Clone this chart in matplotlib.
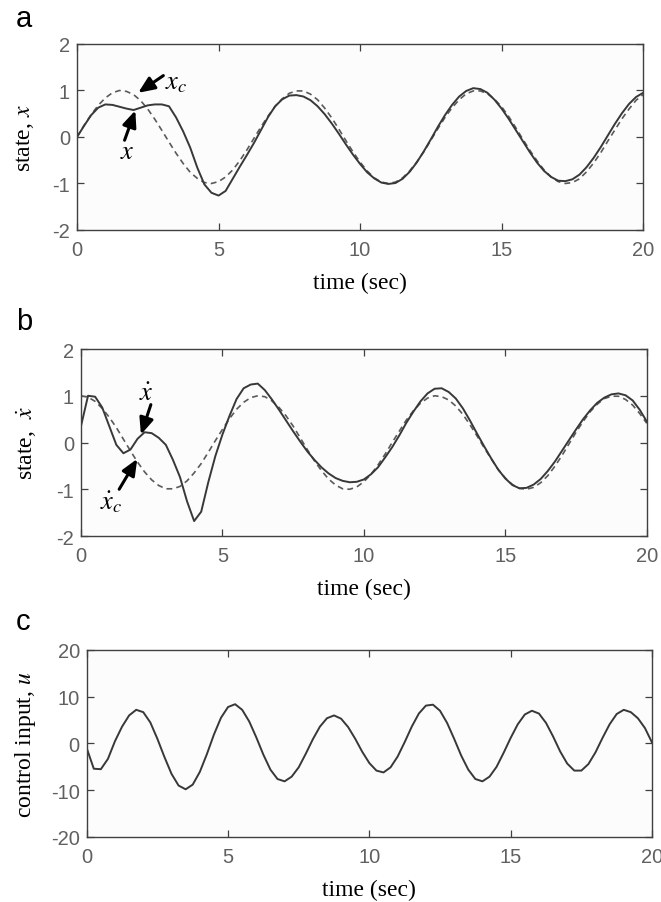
import numpy as np
import matplotlib
matplotlib.use("Agg")
import matplotlib.pyplot as plt

# sample times (sec), 0.25 s spacing
time = np.arange(0, 81) * 0.25

# panel a: desired state x_c (dashed) and state x (solid)
x_ref = [0.00, 0.25, 0.48, 0.68, 0.84, 0.95, 1.00, 0.98, 0.91, 0.78,
         0.60, 0.38, 0.14, -0.11, -0.35, -0.57, -0.76, -0.89, -0.98, -1.00,
         -0.96, -0.86, -0.71, -0.51, -0.28, -0.03, 0.22, 0.45, 0.66, 0.82,
         0.94, 0.99, 0.99, 0.92, 0.80, 0.62, 0.41, 0.17, -0.08, -0.32,
         -0.54, -0.73, -0.88, -0.97, -1.00, -0.97, -0.88, -0.73, -0.54, -0.32,
         -0.07, 0.18, 0.42, 0.63, 0.80, 0.93, 0.99, 0.99, 0.93, 0.81,
         0.65, 0.44, 0.20, -0.05, -0.29, -0.51, -0.71, -0.86, -0.96, -1.00,
         -0.98, -0.90, -0.75, -0.56, -0.34, -0.09, 0.15, 0.39, 0.60, 0.79,
         0.91]
x_state = [0.00, 0.24, 0.47, 0.63, 0.70, 0.69, 0.65, 0.61, 0.58, 0.63,
           0.68, 0.70, 0.70, 0.66, 0.42, 0.12, -0.23, -0.66, -1.02, -1.20,
           -1.26, -1.16, -0.90, -0.64, -0.39, -0.13, 0.15, 0.43, 0.66, 0.81,
           0.89, 0.90, 0.87, 0.79, 0.66, 0.49, 0.29, 0.07, -0.16, -0.38,
           -0.58, -0.76, -0.89, -0.98, -1.01, -0.99, -0.90, -0.75, -0.55, -0.31,
           -0.05, 0.22, 0.47, 0.69, 0.87, 0.99, 1.05, 1.03, 0.95, 0.80,
           0.61, 0.39, 0.15, -0.09, -0.33, -0.55, -0.73, -0.86, -0.94, -0.95,
           -0.91, -0.81, -0.65, -0.45, -0.22, 0.03, 0.28, 0.51, 0.71, 0.86,
           0.95]

# panel b: desired velocity (dashed) and velocity (solid)
xdot_ref = [1.00, 0.97, 0.88, 0.73, 0.54, 0.32, 0.07, -0.18, -0.42, -0.63,
            -0.80, -0.92, -0.99, -0.99, -0.94, -0.82, -0.65, -0.45, -0.21, 0.04,
            0.28, 0.51, 0.71, 0.86, 0.96, 1.00, 0.98, 0.89, 0.75, 0.57,
            0.35, 0.10, -0.15, -0.39, -0.60, -0.78, -0.91, -0.99, -1.00, -0.95,
            -0.84, -0.68, -0.48, -0.25, 0.00, 0.24, 0.48, 0.68, 0.84, 0.95,
            1.00, 0.98, 0.91, 0.78, 0.60, 0.38, 0.14, -0.11, -0.35, -0.58,
            -0.76, -0.90, -0.98, -1.00, -0.96, -0.86, -0.71, -0.51, -0.28, -0.03,
            0.22, 0.45, 0.66, 0.82, 0.94, 0.99, 0.99, 0.92, 0.80, 0.62,
            0.41]
xdot_state = [0.35, 1.00, 0.98, 0.75, 0.35, -0.05, -0.23, -0.15, 0.08, 0.22,
              0.20, 0.10, -0.05, -0.37, -0.74, -1.26, -1.68, -1.48, -0.85, -0.29,
              0.17, 0.57, 0.93, 1.16, 1.24, 1.26, 1.12, 0.92, 0.70, 0.47,
              0.24, 0.02, -0.19, -0.37, -0.53, -0.66, -0.76, -0.82, -0.85, -0.84,
              -0.79, -0.68, -0.53, -0.32, -0.10, 0.15, 0.42, 0.66, 0.88, 1.05,
              1.15, 1.16, 1.08, 0.94, 0.73, 0.47, 0.19, -0.08, -0.34, -0.58,
              -0.77, -0.91, -0.98, -0.97, -0.90, -0.78, -0.61, -0.41, -0.18, 0.05,
              0.28, 0.50, 0.69, 0.85, 0.96, 1.03, 1.05, 1.01, 0.90, 0.70,
              0.45]

# panel c: control input u
u_input = [-1.0, -5.4, -5.5, -3.3, 0.5, 3.6, 6.0, 7.2, 6.7, 4.5,
           1.0, -2.9, -6.5, -9.0, -9.8, -8.8, -6.1, -2.3, 1.9, 5.5,
           7.8, 8.4, 7.2, 4.7, 1.3, -2.4, -5.6, -7.6, -8.1, -7.1,
           -5.1, -2.2, 0.9, 3.6, 5.4, 6.0, 5.3, 3.5, 1.0, -1.8,
           -4.2, -5.8, -6.2, -5.1, -2.8, 0.3, 3.6, 6.4, 8.1, 8.3,
           7.0, 4.4, 1.0, -2.6, -5.6, -7.6, -8.1, -7.1, -5.0, -2.0,
           1.2, 4.1, 6.2, 7.0, 6.4, 4.4, 1.5, -1.7, -4.3, -5.8,
           -5.8, -4.4, -1.9, 1.2, 4.1, 6.3, 7.2, 6.7, 5.4, 3.3,
           0.2]

plt.rcParams["mathtext.fontset"] = "stix"
plt.rcParams["axes.unicode_minus"] = False

SERIF = ["Liberation Serif", "DejaVu Serif"]
TICKFONT = ["Liberation Sans", "DejaVu Sans"]
FRAME = "#404040"
SOLID = "#383838"
DASH = "#5a5a5a"


def style_axes(ax, ylim, yticks, ylabel, ylab_x):
    ax.set_facecolor("#fcfcfc")
    ax.set_xlim(0, 20)
    ax.set_ylim(*ylim)
    ax.set_xticks([0, 5, 10, 15, 20])
    ax.set_yticks(yticks)
    ax.tick_params(direction="in", top=True, right=True, length=5,
                   width=0.9, color=FRAME, labelcolor="#606060",
                   labelsize=14.5)
    ax.tick_params(axis="x", pad=7)
    ax.tick_params(axis="y", pad=5)
    for lab in ax.get_xticklabels() + ax.get_yticklabels():
        lab.set_family(TICKFONT)
    for sp in ax.spines.values():
        sp.set_color(FRAME)
        sp.set_linewidth(1.0)
    ax.set_xlabel("time (sec)", family=SERIF, fontsize=17)
    ax.set_ylabel(ylabel, family=SERIF, fontsize=17)
    ax.xaxis.set_label_coords(0.5, -0.225)
    ax.yaxis.set_label_coords(ylab_x, 0.5)


def arrow(ax, tip, tail):
    ax.annotate("", xy=tip, xytext=tail,
                arrowprops=dict(arrowstyle="-|>,head_length=0.7,head_width=0.3",
                                lw=2.2, color="black", shrinkA=0, shrinkB=0,
                                mutation_scale=14))


fig = plt.figure(figsize=(6.61, 9.03), dpi=100)

ax_a = fig.add_axes([0.1165, 0.7442, 0.8565, 0.2060])
ax_b = fig.add_axes([0.1225, 0.4053, 0.8560, 0.2071])
ax_c = fig.add_axes([0.1312, 0.0720, 0.8552, 0.2071])

DASHES = (0, (3.5, 2.5))

# panel a
ax_a.plot(time, x_ref, color=DASH, lw=1.2, ls=DASHES)
ax_a.plot(time, x_state, color=SOLID, lw=1.4)
style_axes(ax_a, (-2, 2), [-2, -1, 0, 1, 2], "state, $x$", -0.072)
ax_a.text(3.51, 1.19, "$x_c$", fontsize=19, ha="center", va="center")
arrow(ax_a, (2.16, 0.95), (3.05, 1.32))
ax_a.text(1.76, -0.31, "$x$", fontsize=19, ha="center", va="center")
arrow(ax_a, (2.06, 0.57), (1.68, -0.07))

# panel b
ax_b.plot(time, xdot_ref, color=DASH, lw=1.2, ls=DASHES)
ax_b.plot(time, xdot_state, color=SOLID, lw=1.4)
style_axes(ax_b, (-2, 2), [-2, -1, 0, 1, 2], "state,  $\\dot{x}$", -0.075)
ax_b.text(2.30, 1.05, "$\\dot{x}$", fontsize=19, ha="center", va="center")
arrow(ax_b, (2.12, 0.17), (2.47, 0.81))
ax_b.text(1.06, -1.25, "$\\dot{x}_c$", fontsize=19, ha="center", va="center")
arrow(ax_b, (1.99, -0.35), (1.35, -1.0))

# panel c
ax_c.plot(time, u_input, color=SOLID, lw=1.4)
style_axes(ax_c, (-20, 20), [-20, -10, 0, 10, 20], "control input, $u$", -0.086)

# panel letters
for letter, ypx in (("a", 27), ("b", 330), ("c", 630)):
    fig.text(16 / 661, 1 - ypx / 903, letter, fontsize=21,
             family=["Liberation Sans", "DejaVu Sans"], va="baseline")

fig.savefig("out.png", dpi=100)
